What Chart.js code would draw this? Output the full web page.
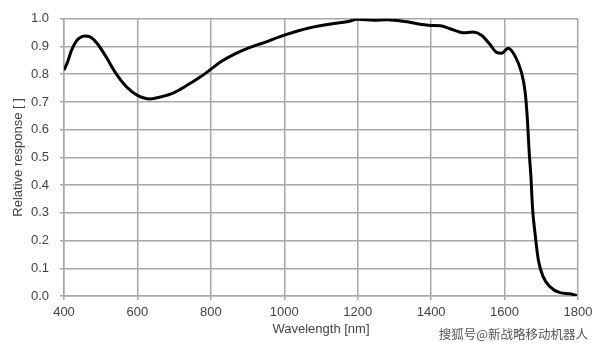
<!DOCTYPE html>
<html>
<head>
<meta charset="utf-8">
<script src="https://cdn.jsdelivr.net/npm/chart.js@4/dist/chart.umd.min.js"></script>
<style>
  html, body { margin: 0; padding: 0; background: #fff; }
  #wrap { width: 600px; height: 346px; }
</style>
</head>
<body>
<div id="wrap"><canvas id="responseChart" width="600" height="346"></canvas></div>
<script>
// 파장 (nm)
const wavelengths = [400, 410, 420, 435, 445, 455, 465, 475, 490, 515, 540, 570, 600, 635, 660, 700, 735, 770, 800, 825, 870, 905, 945, 1000, 1070, 1135, 1170, 1200, 1245, 1280, 1335, 1370, 1400, 1425, 1450, 1487, 1514, 1538, 1560, 1578, 1592, 1610, 1628, 1646, 1656, 1662, 1667, 1672, 1676, 1683, 1692, 1705, 1724, 1751, 1778, 1797];
// 상대 응답
const response = [0.815, 0.845, 0.885, 0.922, 0.933, 0.938, 0.937, 0.932, 0.912, 0.862, 0.806, 0.755, 0.724, 0.711, 0.717, 0.734, 0.760, 0.789, 0.818, 0.843, 0.876, 0.896, 0.914, 0.941, 0.968, 0.983, 0.989, 0.998, 0.995, 0.997, 0.989, 0.980, 0.976, 0.975, 0.965, 0.950, 0.952, 0.940, 0.908, 0.879, 0.876, 0.894, 0.867, 0.807, 0.736, 0.640, 0.520, 0.425, 0.320, 0.225, 0.130, 0.070, 0.033, 0.012, 0.008, 0.001];

const xTickValues = [400, 600, 800, 1000, 1200, 1400, 1600, 1800];
const yTickValues = [0.0, 0.1, 0.2, 0.3, 0.4, 0.5, 0.6, 0.7, 0.8, 0.9, 1.0];

const gridColor = '#a8a8a8';
const textColor = '#444444';
const fontFamily = '"Liberation Sans", Arial, sans-serif';

// 워터마크
const watermark = {
	id: 'watermark',
	afterDraw(chart) {
		const ctx = chart.ctx;
		ctx.save();
		ctx.font = '12.5px "Noto Sans CJK SC", sans-serif';
		ctx.fillStyle = '#555555';
		ctx.textAlign = 'right';
		ctx.textBaseline = 'middle';
		ctx.fillText('搜狐号@新战略移动机器人', 588, 334);
		ctx.restore();
	}
};

const ctx = document.getElementById('responseChart').getContext('2d');
new Chart(ctx, {
	type: 'line',
	data: {
		datasets: [{
			data: wavelengths.map((w, i) => ({ x: w, y: response[i] })),
			borderColor: '#000000',
			borderWidth: 3,
			pointRadius: 0,
			fill: false,
			cubicInterpolationMode: 'monotone'
		}]
	},
	options: {
		responsive: false,
		animation: false,
		layout: { padding: { top: 16, right: 22, left: 0, bottom: 0 } },
		plugins: {
			legend: { display: false },
			tooltip: { enabled: false }
		},
		scales: {
			x: {
				type: 'linear',
				min: 400,
				max: 1800,
				afterBuildTicks: scale => { scale.ticks = xTickValues.map(v => ({ value: v })); },
				afterFit: scale => { scale.height = 50; },
				ticks: {
					color: textColor,
					font: { family: fontFamily, size: 13 },
					padding: 5,
					maxRotation: 0,
					callback: v => String(v)
				},
				grid: { color: gridColor, lineWidth: 1.5, tickLength: 4 },
				border: { color: gridColor, width: 1.5 },
				title: {
					display: true,
					text: 'Wavelength [nm]',
					color: textColor,
					font: { family: fontFamily, size: 13 },
					padding: { top: 0, bottom: 9 }
				}
			},
			y: {
				min: 0,
				max: 1,
				afterBuildTicks: scale => { scale.ticks = yTickValues.map(v => ({ value: v })); },
				afterFit: scale => { scale.width = 64; },
				ticks: {
					color: textColor,
					font: { family: fontFamily, size: 13 },
					padding: 11,
					callback: v => v.toFixed(1)
				},
				grid: { color: gridColor, lineWidth: 1.5, tickLength: 4 },
				border: { color: gridColor, width: 1.5 },
				title: {
					display: true,
					text: 'Relative response [ ]',
					color: textColor,
					font: { family: fontFamily, size: 13 },
					padding: { top: 11, bottom: 0 }
				}
			}
		}
	},
	plugins: [watermark]
});
</script>
</body>
</html>
